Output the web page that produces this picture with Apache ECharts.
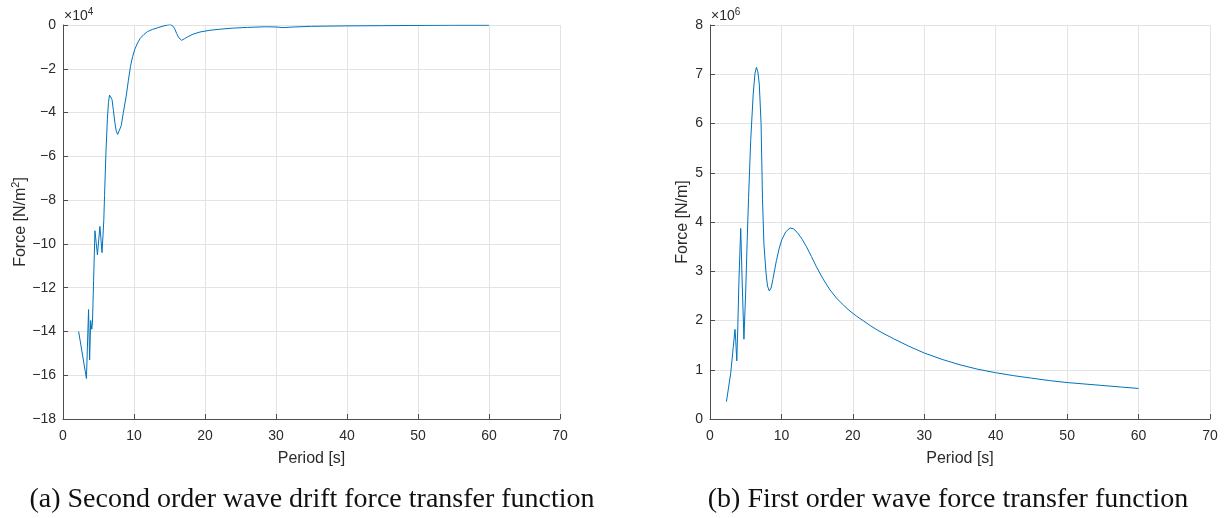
<!DOCTYPE html>
<html>
<head>
<meta charset="utf-8">
<script src="https://cdn.jsdelivr.net/npm/echarts@6/dist/echarts.min.js"></script>
<style>
  html, body { margin: 0; padding: 0; background: #ffffff; }
  #chart { width: 1230px; height: 518px; }
</style>
</head>
<body>
<div id="chart"></div>
<script>
// Period axis ticks shared by both panels [s]
const periodTicks = [0, 10, 20, 30, 40, 50, 60, 70];

// (a) Second order wave drift force, [period s, force in units of 1e4 N/m^2]
const driftForce = [
  [2.2, -14.0], [3.3, -16.15], [3.6, -13.0], [3.75, -15.3], [3.9, -13.5], [4.05, -13.9],
  [4.15, -13.6], [4.5, -9.4], [4.85, -10.5], [5.2, -9.2], [5.5, -10.4], [5.75, -8.9],
  [5.85, -7.8], [6.05, -5.8], [6.25, -4.3], [6.4, -3.55], [6.55, -3.2], [6.7, -3.12],
  [6.9, -3.4], [7.1, -3.9], [7.3, -4.45], [7.5, -4.85], [7.7, -5.0], [7.9, -4.95],
  [8.2, -4.6], [8.5, -4.0], [8.9, -3.25], [9.2, -2.55], [9.5, -1.9], [9.8, -1.45],
  [10.1, -1.12], [10.5, -0.82], [10.9, -0.6], [11.4, -0.43], [11.9, -0.3], [12.6, -0.2],
  [13.3, -0.13], [14.1, -0.05], [14.7, 0.0], [15.1, 0.02], [15.4, -0.03], [15.7, -0.15],
  [16.0, -0.38], [16.3, -0.58], [16.7, -0.7], [17.1, -0.63], [17.5, -0.55], [18.3, -0.42],
  [19.3, -0.32], [20.7, -0.24], [22.5, -0.18], [24.0, -0.14], [26.0, -0.11], [28.5, -0.08],
  [30.0, -0.09], [31.0, -0.12], [32.5, -0.09], [35.0, -0.06], [40.0, -0.04], [45.0, -0.03],
  [50.0, -0.02], [55.0, -0.01], [60.0, -0.01]
];
const driftTicks = { min: -18, max: 0, step: 2, exponent: '4' };

// (b) First order wave force, [period s, force in units of 1e6 N/m]
const firstOrderForce = [
  [2.3, 0.35], [2.9, 0.93], [3.25, 1.45], [3.5, 1.82], [3.6, 1.6], [3.75, 1.18],
  [3.9, 1.9], [4.05, 2.8], [4.3, 3.87], [4.5, 2.8], [4.75, 1.62], [5.0, 2.6],
  [5.2, 3.6], [5.4, 4.5], [5.7, 5.66], [6.05, 6.6], [6.3, 7.02], [6.5, 7.14],
  [6.7, 7.05], [6.9, 6.8], [7.15, 6.0], [7.35, 4.45], [7.55, 3.55], [7.85, 2.95],
  [8.05, 2.7], [8.3, 2.6], [8.55, 2.66], [8.8, 2.83], [9.3, 3.22], [9.7, 3.47],
  [10.05, 3.64], [10.6, 3.8], [11.2, 3.88], [11.7, 3.86], [12.2, 3.79], [12.9, 3.65],
  [13.5, 3.5], [14.2, 3.3], [14.9, 3.09], [15.8, 2.85], [16.8, 2.62], [17.8, 2.44],
  [18.7, 2.31], [19.6, 2.19], [20.5, 2.09], [21.5, 1.99], [22.5, 1.89], [23.5, 1.8],
  [24.5, 1.72], [25.7, 1.63], [27.8, 1.48], [30.0, 1.34], [32.5, 1.21], [35.0, 1.1],
  [37.5, 1.01], [40.0, 0.94], [42.5, 0.88], [45.0, 0.83], [47.5, 0.78], [50.0, 0.74],
  [52.5, 0.71], [55.0, 0.68], [57.5, 0.65], [60.0, 0.62]
];
const firstOrderTicks = { min: 0, max: 8, step: 1, exponent: '6' };

// Axis titles and sub-figure captions
const xTitle = 'Period [s]';
const yTitles = ['{t|Force [N/m}{sup|2}{t|]}', '{t|Force [N/m]}'];
const captions = [
  '(a) Second order wave drift force transfer function',
  '(b) First order wave force transfer function'
];

const lineColor = '#0072BD';
const axisColor = '#4d4d4d';
const textColor = '#2b2b2b';
const gridColor = '#e3e3e3';
const sansFont = '"Liberation Sans", Arial, Helvetica, sans-serif';

const grids = [
  { left: 63, top: 25, width: 497, height: 394 },
  { left: 710, top: 25, width: 500, height: 394 }
];

// Negative tick values use a true minus sign
function tickText(v) {
  return v < 0 ? '\u2212' + Math.abs(v) : String(v);
}

function xAxisFor(gridIndex) {
  return {
    type: 'value', gridIndex: gridIndex,
    min: periodTicks[0], max: periodTicks[periodTicks.length - 1],
    interval: periodTicks[1] - periodTicks[0],
    name: xTitle, nameLocation: 'middle', nameGap: 32,
    nameTextStyle: { color: textColor, fontFamily: sansFont, fontSize: 16 },
    axisLine: { show: true, onZero: false, lineStyle: { color: axisColor, width: 1 } },
    axisTick: { show: true, inside: true, length: 5, lineStyle: { color: axisColor } },
    axisLabel: { color: textColor, fontFamily: sansFont, fontSize: 14, margin: 10, formatter: tickText },
    splitLine: { show: true, lineStyle: { color: gridColor, width: 1 } }
  };
}

function yAxisFor(gridIndex, ticks, title, gap) {
  return {
    type: 'value', gridIndex: gridIndex, position: 'left',
    min: ticks.min, max: ticks.max, interval: ticks.step,
    name: title, nameLocation: 'middle', nameGap: gap, nameRotate: 90,
    nameTextStyle: {
      color: textColor, fontFamily: sansFont, fontSize: 16,
      rich: {
        t: { color: textColor, fontFamily: sansFont, fontSize: 16 },
        sup: { color: textColor, fontFamily: sansFont, fontSize: 11, verticalAlign: 'bottom', padding: [0, 0, 9, 0] }
      }
    },
    axisLine: { show: true, onZero: false, lineStyle: { color: axisColor, width: 1 } },
    axisTick: { show: true, inside: true, length: 5, lineStyle: { color: axisColor } },
    axisLabel: { color: textColor, fontFamily: sansFont, fontSize: 14, margin: 7, formatter: tickText },
    splitLine: { show: true, lineStyle: { color: gridColor, width: 1 } }
  };
}

function exponentLabel(x, exp) {
  return {
    type: 'text', left: x, top: 7,
    style: {
      text: '{m|×10}{e|' + exp + '}',
      rich: {
        m: { fontFamily: sansFont, fontSize: 14, fill: textColor, color: textColor },
        e: { fontFamily: sansFont, fontSize: 10, fill: textColor, color: textColor, verticalAlign: 'bottom', padding: [0, 0, 8, 0] }
      }
    }
  };
}

function captionLabel(cx, text) {
  return {
    type: 'text', x: cx, y: 500,
    style: {
      text: text, fill: '#111111',
      font: '28px "Liberation Serif", "Times New Roman", serif',
      textAlign: 'center', textVerticalAlign: 'middle'
    }
  };
}

const chart = echarts.init(document.getElementById('chart'), null, { renderer: 'canvas' });
chart.setOption({
  animation: false,
  backgroundColor: '#ffffff',
  grid: grids,
  xAxis: [xAxisFor(0), xAxisFor(1)],
  yAxis: [
    yAxisFor(0, driftTicks, yTitles[0], 32),
    yAxisFor(1, firstOrderTicks, yTitles[1], 19)
  ],
  series: [
    {
      type: 'line', xAxisIndex: 0, yAxisIndex: 0, data: driftForce,
      showSymbol: false, symbol: 'none', smooth: false,
      lineStyle: { color: lineColor, width: 1 }
    },
    {
      type: 'line', xAxisIndex: 1, yAxisIndex: 1, data: firstOrderForce,
      showSymbol: false, symbol: 'none', smooth: false,
      lineStyle: { color: lineColor, width: 1 }
    }
  ],
  graphic: [
    exponentLabel(64, driftTicks.exponent),
    exponentLabel(711, firstOrderTicks.exponent),
    captionLabel(312, captions[0]),
    captionLabel(948, captions[1])
  ]
});
</script>
</body>
</html>
